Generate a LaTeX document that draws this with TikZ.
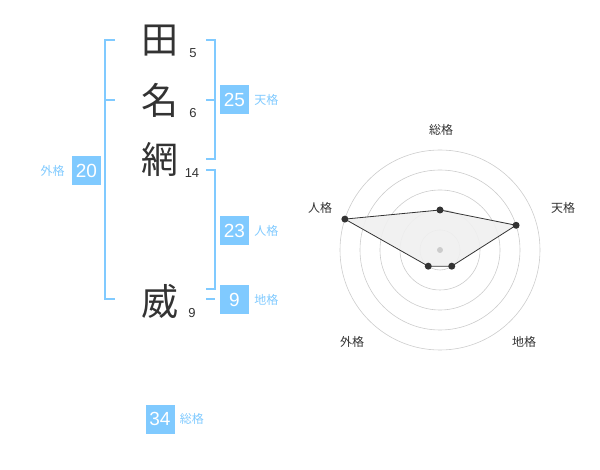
\documentclass[tikz,border=0pt]{standalone}
\usepackage{fontspec}
\setmainfont{Liberation Sans}
\newfontfamily\jp{Noto Sans CJK JP}
\usetikzlibrary{positioning}
\definecolor{kblue}{RGB}{128,202,255}
\definecolor{ktext}{RGB}{51,51,51}

\begin{document}
\begin{tikzpicture}[x=1pt,y=-1pt,
  kanji/.style={font=\jp\fontsize{37}{37}\selectfont,text=ktext,inner sep=0pt},
  strokes/.style={font=\fontsize{13}{13}\selectfont,text=ktext,inner sep=0pt},
  kaku/.style={fill=kblue,text=white,minimum size=29pt,inner sep=0pt,font=\fontsize{19}{19}\selectfont},
  kakuname/.style={text=kblue,font=\jp\fontsize{12}{12}\selectfont,inner sep=0pt},
  bracket/.style={draw=kblue,line width=2pt},
  ring/.style={draw=black!20,line width=0.6pt},
  axisname/.style={font=\jp\fontsize{12}{12}\selectfont,text=ktext,inner sep=0pt},
  dot/.style={circle,fill=ktext,inner sep=0pt,minimum size=7pt}]
\useasboundingbox (0,0) rectangle (600,470);
%% name;
\node[kanji] (ta) at (160,41) {田};
\node[kanji] (na) at (160,100) {名};
\node[kanji] (tsuna) at (160,159) {網};
\node[kanji] (take) at (160,301) {威};
\node[strokes] (s1) at (193,53) {5};
\node[strokes] (s2) at (193,113) {6};
\node[strokes] (s3) at (192,173) {14};
\node[strokes] (s4) at (192,313) {9};
%% brackets;
\draw[bracket] (115,40) -- (105,40) -- (105,299) -- (115,299);
\draw[bracket] (105,100) -- (115,100);
\draw[bracket] (206,40) -- (215,40) -- (215,159) -- (206,159);
\draw[bracket] (206,100) -- (215,100);
\draw[bracket] (206,170) -- (215,170) -- (215,289) -- (206,289);
\draw[bracket] (206,299) -- (215,299);
%% kaku;
\node[kaku] (ten) at (234.5,100) {25};
\node[kakuname,right=5pt of ten] (tenname) {天格};
\node[kaku] (jin) at (234.5,231) {23};
\node[kakuname,right=5pt of jin] (jinname) {人格};
\node[kaku] (chi) at (234.5,300) {9};
\node[kakuname,right=5pt of chi] (chiname) {地格};
\node[kaku] (gai) at (86.5,171) {20};
\node[kakuname,left=7pt of gai] (gainame) {外格};
\node[kaku] (sou) at (160,419) {34};
\node[kakuname,right=5pt of sou] (souname) {総格};
%% chart;
\coordinate (o) at (440,250);
\foreach \r in {20,40,...,100}
  \draw[ring] (o) circle (\r);
\coordinate (psou) at ([shift={(-90:40)}]o);
\coordinate (pten) at ([shift={(-18:80)}]o);
\coordinate (pchi) at ([shift={(54:20)}]o);
\coordinate (pgai) at ([shift={(126:20)}]o);
\coordinate (pjin) at ([shift={(-162:100)}]o);
\filldraw[fill=black!6, fill opacity=0.9, draw=ktext, line width=0.8pt]
  (psou) -- (pten) -- (pchi) -- (pgai) -- (pjin) -- cycle;
\node[circle,fill=black!20,inner sep=0pt,minimum size=6pt] (mid) at (o) {};
\foreach \p in {psou,pten,pchi,pgai,pjin}
  \node[dot] at (\p) {};
\node[axisname] (asou) at (441,130) {総格};
\node[axisname] (aten) at (563,208) {天格};
\node[axisname] (ajin) at (320,208) {人格};
\node[axisname] (agai) at (352,342) {外格};
\node[axisname] (achi) at (524,342) {地格};
\end{tikzpicture}
\end{document}
